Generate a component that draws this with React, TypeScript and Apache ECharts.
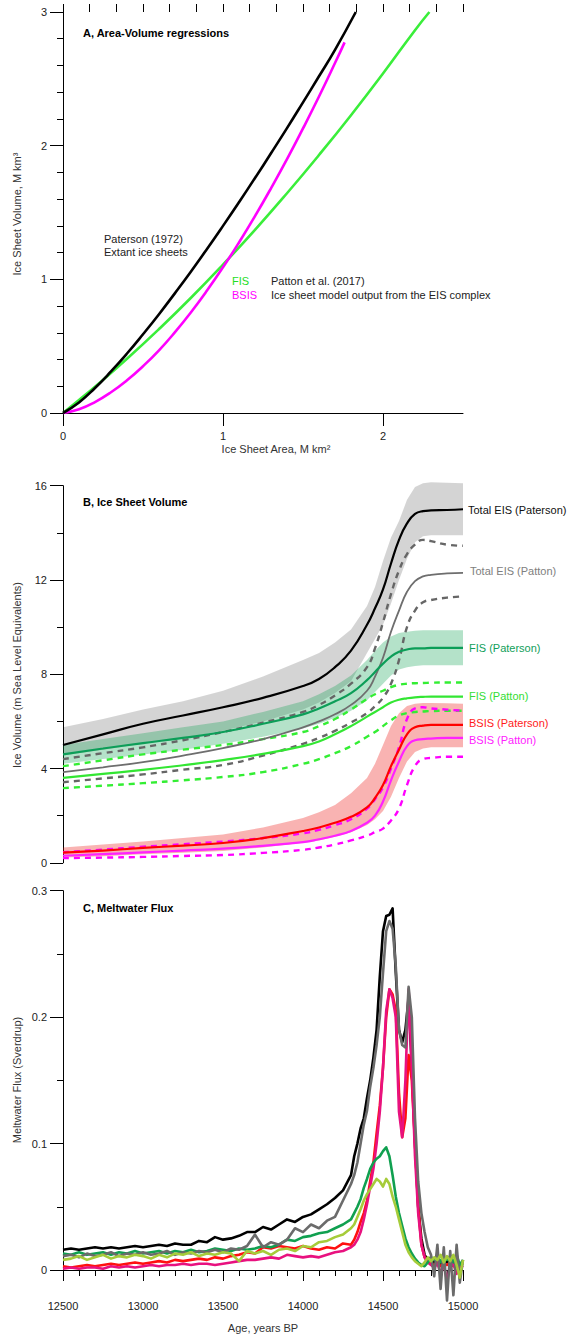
import React, { useEffect, useRef } from "react";
import * as echarts from "echarts";

// ---------- Panel A: area-volume regressions ----------
const areaPaterson = [0, 0.1, 0.2, 0.3, 0.4, 0.5, 0.6, 0.7, 0.8, 0.9, 1.0, 1.1, 1.2, 1.3, 1.4, 1.5, 1.6, 1.7, 1.83];
const volPaterson = [0, 0.079, 0.187, 0.311, 0.445, 0.589, 0.739, 0.897, 1.059, 1.227, 1.4, 1.577, 1.758, 1.943, 2.131, 2.324, 2.519, 2.717, 3.0];
const areaFIS = [0, 0.1, 0.2, 0.4, 0.6, 0.8, 1.0, 1.2, 1.4, 1.6, 1.8, 2.0, 2.2, 2.29];
const volFIS = [0, 0.097, 0.196, 0.406, 0.628, 0.862, 1.11, 1.37, 1.644, 1.93, 2.228, 2.54, 2.864, 3.0];
const areaBSIS = [0, 0.1, 0.2, 0.3, 0.4, 0.5, 0.6, 0.7, 0.8, 0.9, 1.0, 1.1, 1.2, 1.3, 1.4, 1.5, 1.6, 1.7, 1.76];
const volBSIS = [0, 0.028, 0.082, 0.155, 0.245, 0.35, 0.469, 0.605, 0.754, 0.916, 1.09, 1.276, 1.473, 1.681, 1.899, 2.129, 2.368, 2.618, 2.773];
const xTicksA = [0, 1, 2];

// ---------- Panel B: ice sheet volume ----------
const agesB = [12500, 12750, 13000, 13250, 13500, 13750, 14000, 14100, 14200, 14300, 14400, 14450, 14500, 14550, 14600, 14650, 14700, 14750, 14800, 14900, 15000];
const totalPaterson = [5.0, 5.45, 5.9, 6.25, 6.6, 7.0, 7.5, 7.8, 8.3, 9.0, 10.1, 10.8, 11.6, 12.7, 13.7, 14.4, 14.8, 14.92, 14.95, 14.97, 15.0];
const totalPatersonHi = [5.75, 6.1, 6.5, 6.85, 7.3, 7.9, 8.6, 8.9, 9.35, 9.9, 10.9, 11.7, 12.8, 13.8, 14.5, 15.4, 15.95, 16.1, 16.15, 16.12, 16.1];
const totalPatersonLo = [4.55, 4.8, 5.05, 5.3, 5.6, 6.0, 6.5, 6.8, 7.2, 7.7, 8.9, 9.5, 10.1, 11.0, 12.0, 12.9, 13.6, 13.85, 13.9, 13.9, 13.9];
const totalPatton = [3.85, 4.05, 4.27, 4.55, 4.87, 5.25, 5.75, 6.0, 6.3, 6.7, 7.3, 7.9, 8.7, 9.8, 10.7, 11.5, 11.95, 12.15, 12.22, 12.28, 12.3];
const totalPattonHi = [4.4, 4.65, 4.9, 5.2, 5.55, 5.95, 6.4, 6.7, 7.1, 7.6, 8.3, 9.1, 10.2, 11.4, 12.4, 13.1, 13.5, 13.7, 13.65, 13.5, 13.45];
const totalPattonLo = [3.42, 3.58, 3.75, 3.95, 4.15, 4.55, 5.05, 5.3, 5.6, 5.95, 6.35, 6.65, 7.0, 7.6, 8.6, 10.0, 10.7, 11.05, 11.15, 11.25, 11.3];
const fisPaterson = [4.6, 4.85, 5.08, 5.3, 5.55, 5.9, 6.3, 6.55, 6.85, 7.2, 7.75, 8.1, 8.45, 8.75, 8.95, 9.05, 9.1, 9.1, 9.12, 9.12, 9.12];
const fisPatersonHi = [5.0, 5.25, 5.5, 5.75, 6.0, 6.4, 6.85, 7.15, 7.5, 7.95, 8.6, 9.0, 9.35, 9.6, 9.75, 9.8, 9.85, 9.87, 9.87, 9.87, 9.87];
const fisPatersonLo = [4.2, 4.4, 4.6, 4.8, 5.05, 5.35, 5.7, 5.9, 6.15, 6.45, 6.9, 7.25, 7.6, 7.95, 8.2, 8.3, 8.35, 8.38, 8.38, 8.38, 8.38];
const fisPatton = [3.6, 3.77, 3.94, 4.14, 4.36, 4.62, 4.95, 5.15, 5.45, 5.8, 6.2, 6.4, 6.6, 6.8, 6.92, 6.98, 7.02, 7.04, 7.05, 7.05, 7.05];
const fisPattonHi = [4.1, 4.35, 4.6, 4.8, 5.0, 5.25, 5.55, 5.8, 6.1, 6.5, 6.95, 7.15, 7.3, 7.45, 7.55, 7.6, 7.62, 7.63, 7.64, 7.65, 7.65];
const fisPattonLo = [3.17, 3.27, 3.38, 3.5, 3.64, 3.85, 4.2, 4.4, 4.65, 4.95, 5.35, 5.55, 5.8, 6.05, 6.25, 6.35, 6.4, 6.42, 6.44, 6.45, 6.45];
const bsisPaterson = [0.43, 0.52, 0.63, 0.73, 0.84, 1.05, 1.35, 1.5, 1.7, 1.95, 2.35, 2.75, 3.3, 4.1, 4.8, 5.45, 5.75, 5.82, 5.85, 5.85, 5.85];
const bsisPatersonHi = [0.65, 0.78, 0.9, 1.05, 1.2, 1.5, 1.9, 2.15, 2.45, 2.95, 3.6, 4.2, 5.0, 5.8, 6.35, 6.65, 6.75, 6.78, 6.78, 6.77, 6.75];
const bsisPatersonLo = [0.22, 0.28, 0.36, 0.43, 0.5, 0.65, 0.85, 0.95, 1.1, 1.3, 1.6, 1.85, 2.2, 2.8, 3.6, 4.3, 4.7, 4.85, 4.9, 4.9, 4.9];
const bsisPatton = [0.3, 0.37, 0.44, 0.52, 0.6, 0.72, 0.88, 1.0, 1.15, 1.35, 1.7, 2.0, 2.6, 3.5, 4.3, 4.95, 5.2, 5.25, 5.27, 5.3, 5.3];
const bsisPattonHi = [0.45, 0.56, 0.68, 0.79, 0.9, 1.05, 1.25, 1.4, 1.6, 1.85, 2.3, 2.7, 3.2, 4.0, 4.9, 6.1, 6.55, 6.6, 6.55, 6.5, 6.45];
const bsisPattonLo = [0.2, 0.22, 0.25, 0.29, 0.33, 0.42, 0.55, 0.65, 0.78, 0.95, 1.15, 1.3, 1.45, 1.8, 2.3, 3.3, 4.1, 4.4, 4.45, 4.5, 4.5];

// ---------- Panel C: meltwater flux ----------
const agesC = [
  12500, 12550, 12600, 12650, 12700, 12750, 12800, 12850, 12900, 12950, 13000, 13050, 13100, 13150, 13200, 13250, 13300, 13350, 13400,
  13450, 13500, 13550, 13600, 13650, 13700, 13750, 13800, 13850, 13900, 13950, 14000, 14050, 14100, 14150, 14200, 14250, 14300,
  14320, 14340, 14360, 14380, 14400, 14420, 14440, 14460, 14480, 14500, 14520, 14540, 14560, 14580, 14600, 14620, 14640, 14660,
  14680, 14700, 14720, 14740, 14760, 14780, 14800, 14820, 14840, 14860, 14880, 14900, 14920, 14940, 14960, 14980, 15000,
];
const fluxTotalPaterson = [
  0.016, 0.017, 0.016, 0.017, 0.018, 0.017, 0.018, 0.017, 0.018, 0.019, 0.018, 0.019, 0.020, 0.019, 0.021, 0.020, 0.020, 0.023, 0.022,
  0.026, 0.024, 0.025, 0.027, 0.030, 0.030, 0.034, 0.032, 0.036, 0.040, 0.038, 0.042, 0.044, 0.048, 0.052, 0.057, 0.063, 0.075,
  0.09, 0.10, 0.112, 0.12, 0.136, 0.15, 0.168, 0.19, 0.232, 0.268, 0.28, 0.281, 0.286, 0.235, 0.19, 0.18, 0.19, 0.215,
  0.16, 0.10, 0.05, 0.025, 0.012, 0.008, 0.010, 0.005, 0.012, 0.004, 0.010, 0.006, 0.011, 0.005, 0.009, 0.003, 0.007,
];
const fluxTotalPatton = [
  0.011, 0.012, 0.010, 0.013, 0.011, 0.012, 0.014, 0.011, 0.013, 0.012, 0.014, 0.012, 0.013, 0.015, 0.012, 0.014, 0.013, 0.015, 0.014,
  0.016, 0.014, 0.017, 0.016, 0.019, 0.028, 0.018, 0.022, 0.020, 0.024, 0.033, 0.030, 0.036, 0.033, 0.039, 0.042, 0.055, 0.068,
  0.075, 0.085, 0.10, 0.115, 0.126, 0.145, 0.16, 0.178, 0.20, 0.235, 0.268, 0.276, 0.27, 0.24, 0.19, 0.178, 0.176, 0.224,
  0.20, 0.12, 0.07, 0.045, 0.03, 0.018, 0.012, -0.005, 0.02, -0.015, 0.018, -0.024, 0.015, -0.02, 0.02, -0.01, 0.008,
];
const fluxBsisPaterson = [
  0.003, 0.002, 0.003, 0.004, 0.003, 0.004, 0.005, 0.004, 0.005, 0.006, 0.005, 0.006, 0.007, 0.006, 0.008, 0.007, 0.008, 0.009, 0.008,
  0.010, 0.009, 0.011, 0.012, 0.014, 0.013, 0.018, 0.017, 0.019, 0.018, 0.017, 0.019, 0.017, 0.016, 0.018, 0.017, 0.021, 0.020,
  0.024, 0.03, 0.038, 0.045, 0.055, 0.07, 0.085, 0.108, 0.13, 0.16, 0.2, 0.222, 0.218, 0.205, 0.14, 0.105, 0.12, 0.17,
  0.15, 0.10, 0.05, 0.02, 0.01, 0.006, 0.005, 0.004, 0.006, 0.003, 0.005, 0.004, 0.006, 0.003, 0.005, 0.004, 0.005,
];
const fluxBsisPatton = [
  0.001, 0.002, 0.001, 0.002, 0.002, 0.001, 0.003, 0.002, 0.003, 0.002, 0.003, 0.004, 0.003, 0.004, 0.004, 0.005, 0.004, 0.005, 0.005,
  0.004, 0.005, 0.006, 0.007, 0.008, 0.008, 0.009, 0.010, 0.009, 0.012, 0.011, 0.010, 0.011, 0.010, 0.012, 0.014, 0.015, 0.018,
  0.02, 0.024, 0.03, 0.04, 0.052, 0.066, 0.08, 0.10, 0.125, 0.16, 0.205, 0.222, 0.215, 0.2, 0.125, 0.105, 0.15, 0.222,
  0.16, 0.09, 0.045, 0.02, 0.01, 0.006, 0.004, 0.002, 0.005, -0.002, 0.004, -0.008, 0.003, 0.005, -0.003, 0.004, 0.002,
];
const fluxFisPaterson = [
  0.013, 0.012, 0.014, 0.012, 0.013, 0.014, 0.012, 0.014, 0.013, 0.015, 0.013, 0.014, 0.015, 0.013, 0.015, 0.014, 0.016, 0.014, 0.015,
  0.017, 0.016, 0.015, 0.017, 0.016, 0.017, 0.019, 0.018, 0.020, 0.024, 0.023, 0.026, 0.027, 0.029, 0.030, 0.033, 0.036, 0.040,
  0.045, 0.05, 0.056, 0.065, 0.072, 0.08, 0.085, 0.088, 0.09, 0.094, 0.097, 0.09, 0.075, 0.058, 0.045, 0.035, 0.025, 0.018,
  0.013, 0.009, 0.006, 0.004, 0.003, 0.006, 0.010, 0.008, 0.012, 0.006, 0.010, 0.008, 0.011, 0.006, 0.012, 0.004, 0.008,
];
const fluxFisPatton = [
  0.008, 0.009, 0.011, 0.008, 0.010, 0.012, 0.009, 0.011, 0.010, 0.012, 0.011, 0.009, 0.012, 0.010, 0.013, 0.012, 0.014, 0.011, 0.013,
  0.012, 0.014, 0.013, 0.007, 0.015, 0.013, 0.015, 0.012, 0.016, 0.017, 0.015, 0.019, 0.018, 0.022, 0.023, 0.026, 0.028, 0.033,
  0.036, 0.042, 0.048, 0.055, 0.06, 0.064, 0.068, 0.072, 0.07, 0.066, 0.072, 0.068, 0.058, 0.05, 0.04, 0.03, 0.02, 0.014,
  0.01, 0.007, 0.005, 0.003, 0.006, 0.010, 0.007, 0.010, 0.008, 0.012, 0.006, 0.011, 0.007, 0.012, 0.004, -0.006, 0.008,
];

const FONT = "Liberation Sans, Arial, Helvetica, sans-serif";

const zip = (xs: number[], ys: number[]) => xs.map((x, i) => [x, ys[i]]);

function line(xs: number[], ys: number[], color: string, width: number, xi: number, yi: number, opts: any = {}) {
  return {
    type: "line",
    xAxisIndex: xi,
    yAxisIndex: yi,
    data: zip(xs, ys),
    showSymbol: false,
    symbol: "none",
    clip: false,
    lineStyle: { color, width, type: opts.dashed ? [6, 5] : "solid", cap: "butt", join: "round" },
    smooth: opts.smooth ?? false,
    z: opts.z ?? 3,
    silent: true,
  };
}

function band(xs: number[], lo: number[], hi: number[], color: string) {
  return {
    type: "custom",
    xAxisIndex: 2,
    yAxisIndex: 1,
    data: zip(xs, lo),
    clip: false,
    silent: true,
    z: 1,
    renderItem: (params: any, api: any) => {
      if (params.dataIndex !== 0) return null;
      const top = xs.map((x, i) => api.coord([x, hi[i]]));
      const bottom = xs.map((x, i) => api.coord([x, lo[i]])).reverse();
      return {
        type: "polygon",
        shape: { points: [...top, ...bottom] },
        style: { fill: color, stroke: null },
      };
    },
  };
}

const axisBase = {
  axisLine: { show: true, lineStyle: { color: "#000", width: 1 } },
  axisTick: { show: true, lineStyle: { color: "#000", width: 1 } },
  axisLabel: { color: "#222", fontSize: 11, fontFamily: FONT },
  splitLine: { show: false },
};

function txt(text: string, x: number, y: number, opts: any = {}) {
  return {
    type: "text",
    x,
    y,
    rotation: opts.rotation ?? 0,
    z: 100,
    silent: true,
    style: {
      text,
      fill: opts.color ?? "#222",
      font: `${opts.bold ? "bold " : ""}${opts.size ?? 11}px ${FONT}`,
      align: opts.align ?? "left",
      verticalAlign: "middle",
    },
  };
}

export default function App() {
  const ref = useRef<HTMLDivElement>(null);
  useEffect(() => {
    const chart = echarts.init(ref.current!, null, { renderer: "svg" });
    const minorA = Array.from({ length: 16 }, (_, k) => k / 6);
    const option: any = {
      animation: false,
      backgroundColor: "#fff",
      grid: [
        { left: 63, top: 12, width: 400, height: 401 },
        { left: 63, top: 485.7, width: 400, height: 377.1 },
        { left: 63, top: 890.7, width: 400, height: 379.3 },
      ],
      xAxis: [
        {
          ...axisBase,
          type: "value",
          gridIndex: 0,
          min: 0,
          max: 2.5,
          axisTick: { show: true, length: 13, customValues: xTicksA, lineStyle: { color: "#000" } },
          axisLabel: { ...axisBase.axisLabel, margin: 17, customValues: xTicksA },
        },
        {
          type: "value",
          gridIndex: 0,
          min: 0,
          max: 2.5,
          axisLine: { show: false },
          axisTick: { show: true, length: 8, customValues: minorA, lineStyle: { color: "#000" } },
          axisLabel: { show: false },
          splitLine: { show: false },
        },
        { type: "value", gridIndex: 1, min: 12500, max: 15000, show: false, splitLine: { show: false } },
        {
          ...axisBase,
          type: "value",
          gridIndex: 2,
          min: 12500,
          max: 15000,
          interval: 500,
          offset: 12,
          axisTick: { show: true, length: 11, lineStyle: { color: "#000" } },
          minorTick: { show: true, splitNumber: 5, length: 6, lineStyle: { color: "#000" } },
          axisLabel: { ...axisBase.axisLabel, margin: 18, formatter: (v: number) => String(v) },
        },
      ],
      yAxis: [
        {
          ...axisBase,
          type: "value",
          gridIndex: 0,
          min: 0,
          max: 3,
          interval: 1,
          axisTick: { show: true, length: 13, lineStyle: { color: "#000" } },
          minorTick: { show: true, splitNumber: 5, length: 6, lineStyle: { color: "#000" } },
          axisLabel: { ...axisBase.axisLabel, margin: 16 },
        },
        {
          ...axisBase,
          type: "value",
          gridIndex: 1,
          min: 0,
          max: 16,
          interval: 4,
          axisTick: { show: true, length: 13, lineStyle: { color: "#000" } },
          minorTick: { show: true, splitNumber: 2, length: 6, lineStyle: { color: "#000" } },
          axisLabel: { ...axisBase.axisLabel, margin: 16 },
        },
        {
          ...axisBase,
          type: "value",
          gridIndex: 2,
          min: 0,
          max: 0.3,
          interval: 0.1,
          axisTick: { show: true, length: 13, lineStyle: { color: "#000" } },
          minorTick: { show: true, splitNumber: 2, length: 6, lineStyle: { color: "#000" } },
          axisLabel: { ...axisBase.axisLabel, margin: 16 },
        },
      ],
      series: [
        // Panel A
        line(areaFIS, volFIS, "#3aee3a", 2.6, 0, 0, { smooth: true }),
        line(areaBSIS, volBSIS, "#ff00ff", 2.6, 0, 0, { smooth: true }),
        line(areaPaterson, volPaterson, "#000000", 2.6, 0, 0, { smooth: true }),
        // Panel B bands
        band(agesB, totalPatersonLo, totalPatersonHi, "rgba(0,0,0,0.17)"),
        band(agesB, fisPatersonLo, fisPatersonHi, "rgba(8,158,75,0.3)"),
        band(agesB, bsisPatersonLo, bsisPatersonHi, "rgba(235,20,15,0.32)"),
        // Panel B lines
        line(agesB, totalPattonHi, "#666666", 2.4, 2, 1, { smooth: true, dashed: true }),
        line(agesB, totalPattonLo, "#666666", 2.4, 2, 1, { smooth: true, dashed: true }),
        line(agesB, fisPattonHi, "#33ee33", 2.4, 2, 1, { smooth: true, dashed: true }),
        line(agesB, fisPattonLo, "#33ee33", 2.4, 2, 1, { smooth: true, dashed: true }),
        line(agesB, bsisPattonHi, "#ff00ff", 2.4, 2, 1, { smooth: true, dashed: true }),
        line(agesB, bsisPattonLo, "#ff00ff", 2.4, 2, 1, { smooth: true, dashed: true }),
        line(agesB, totalPatton, "#6e6e6e", 1.8, 2, 1, { smooth: true }),
        line(agesB, fisPatton, "#33e633", 2.2, 2, 1, { smooth: true }),
        line(agesB, fisPaterson, "#0c9e58", 2.2, 2, 1, { smooth: true }),
        line(agesB, bsisPatton, "#ff22ff", 2.2, 2, 1, { smooth: true }),
        line(agesB, bsisPaterson, "#ff0000", 2.2, 2, 1, { smooth: true }),
        line(agesB, totalPaterson, "#000000", 2.2, 2, 1, { smooth: true }),
        // Panel C
        line(agesC, fluxTotalPaterson, "#000000", 2.6, 3, 2),
        line(agesC, fluxBsisPaterson, "#ff1010", 2.6, 3, 2),
        line(agesC, fluxBsisPatton, "#e8117f", 2.6, 3, 2),
        line(agesC, fluxFisPaterson, "#10a050", 2.6, 3, 2),
        line(agesC, fluxTotalPatton, "#6b6b6b", 2.6, 3, 2),
        line(agesC, fluxFisPatton, "#a6cc3a", 2.6, 3, 2),
      ],
      graphic: [
        // Panel A
        txt("A, Area-Volume regressions", 83, 33, { bold: true, color: "#000" }),
        txt("Paterson (1972)", 104, 239),
        txt("Extant ice sheets", 104, 252),
        txt("FIS", 232, 281, { color: "#22dd22" }),
        txt("BSIS", 232, 295, { color: "#ff00ff" }),
        txt("Patton et al. (2017)", 271, 281),
        txt("Ice sheet model output from the EIS complex", 271, 295),
        txt("Ice Sheet Area, M km²", 276, 449, { align: "center", color: "#333" }),
        txt("Ice Sheet Volume, M km³", 17, 214, { align: "center", rotation: Math.PI / 2, color: "#333" }),
        // Panel B
        txt("B, Ice Sheet Volume", 83, 502, { bold: true, color: "#000" }),
        txt("Total EIS (Paterson)", 468, 510, { color: "#111" }),
        txt("Total EIS (Patton)", 470, 571, { color: "#808080" }),
        txt("FIS (Paterson)", 469, 648, { color: "#10a05a" }),
        txt("FIS (Patton)", 469, 696, { color: "#33dd33" }),
        txt("BSIS (Paterson)", 469, 723, { color: "#ff1a1a" }),
        txt("BSIS (Patton)", 469, 740, { color: "#ff22ff" }),
        txt("Ice Volume (m Sea Level Equivalents)", 17, 675, { align: "center", rotation: Math.PI / 2, color: "#333" }),
        // Panel C
        txt("C, Meltwater Flux", 83, 908, { bold: true, color: "#000" }),
        txt("Meltwater Flux (Sverdrup)", 17, 1080, { align: "center", rotation: Math.PI / 2, color: "#333" }),
        txt("Age, years BP", 263, 1328, { align: "center", color: "#333" }),
      ],
    };
    chart.setOption(option);
    return () => chart.dispose();
  }, []);
  return <div ref={ref} style={{ position: "absolute", left: 0, top: 0, width: 576, height: 1337 }} />;
}
